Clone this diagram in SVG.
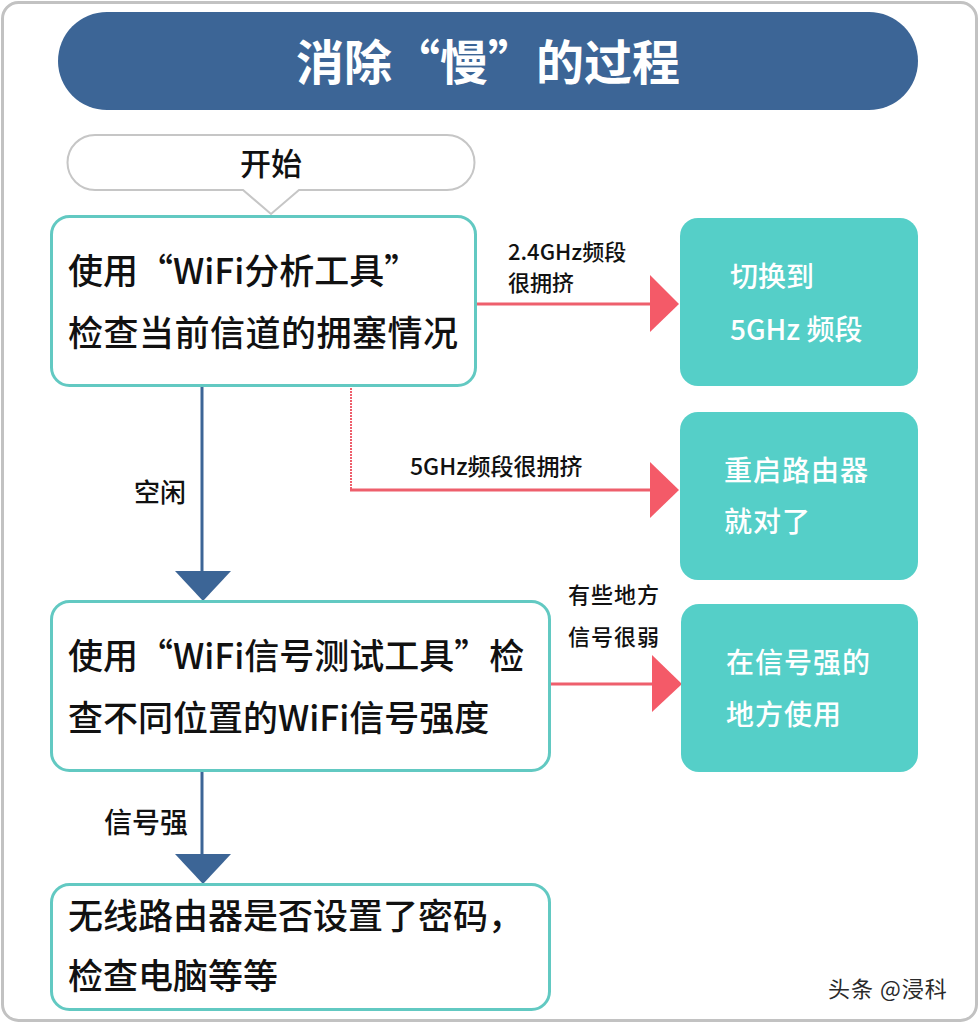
<svg xmlns="http://www.w3.org/2000/svg" width="980" height="1024" viewBox="0 0 980 1024">
<style>
text{font-family:"Noto Sans CJK SC","Noto Sans",sans-serif;}
.box{fill:#ffffff;stroke:#62c9c2;stroke-width:3;}
.tbox{fill:#55cfc8;stroke:none;}
.btxt{font-size:35px;font-weight:500;fill:#111;}
.wtxt{font-size:28px;font-weight:500;fill:#ffffff;}
.lbl{font-weight:500;fill:#111;}
.blue{stroke:#3c6596;stroke-width:3;fill:none;}
.red{stroke:#ee5f6c;stroke-width:3;fill:none;}
.bhead{fill:#3c6596;}
.rhead{fill:#f45a68;}
</style>
<rect x="0" y="0" width="980" height="1024" fill="#ffffff"/>
<rect x="2.5" y="2.5" width="974" height="1018" rx="16" fill="#ffffff" stroke="#c2c2c2" stroke-width="3"/>

<g id="title">
<rect x="58" y="12" width="860" height="98" rx="49" fill="#3c6596"/>
<text x="488" y="80" text-anchor="middle" font-size="48" font-weight="bold" fill="#ffffff">消除“慢”的过程</text>
</g>

<g id="start">
<path d="M95,135 H447 A27.5,27.5 0 0 1 447,190 H299 L271,214 L243,190 H95 A27.5,27.5 0 0 1 95,135 Z" fill="#ffffff" stroke="#c6c6c6" stroke-width="2"/>
<text x="271" y="175" text-anchor="middle" font-size="31" font-weight="500" fill="#111">开始</text>
</g>

<g id="connectors">
<line class="blue" x1="202" y1="386" x2="202" y2="573"/>
<polygon class="bhead" points="175,571 231,571 203,601"/>
<line class="blue" x1="202" y1="771" x2="202" y2="856"/>
<polygon class="bhead" points="175,854 231,854 203,884"/>
<line class="red" x1="476" y1="304" x2="652" y2="304"/>
<polygon class="rhead" points="650,275 650,332 679,304"/>
<line x1="351" y1="388" x2="351" y2="490" stroke="#ee5f6c" stroke-width="2" stroke-dasharray="2,1"/>
<line class="red" x1="350" y1="490" x2="652" y2="490"/>
<polygon class="rhead" points="650,462 650,518 679,490"/>
<line class="red" x1="550" y1="684" x2="654" y2="684"/>
<polygon class="rhead" points="652,655 652,712 682,684"/>
<text class="lbl" x="508" y="260" style="font-size:22px">2.4GHz频段</text>
<text class="lbl" x="508" y="291" style="font-size:22px">很拥挤</text>
<text class="lbl" x="410" y="475" style="font-size:23px">5GHz频段很拥挤</text>
<text class="lbl" x="134" y="502" style="font-size:26px">空闲</text>
<text class="lbl" x="568" y="603" style="font-size:22px" letter-spacing="1">有些地方</text>
<text class="lbl" x="568" y="645" style="font-size:22px" letter-spacing="1">信号很弱</text>
<text class="lbl" x="104" y="833" style="font-size:28px">信号强</text>
</g>

<g id="box1">
<rect class="box" x="51.5" y="216.5" width="424" height="169" rx="18"/>
<text class="btxt" x="68" y="284">使用“WiFi分析工具”</text>
<text class="btxt" x="68" y="346" letter-spacing="0.5">检查当前信道的拥塞情况</text>
</g>

<g id="switch5g">
<rect class="tbox" x="680" y="218" width="238" height="168" rx="18"/>
<text class="wtxt" x="730" y="287">切换到</text>
<text class="wtxt" x="730" y="340">5GHz 频段</text>
</g>

<g id="reboot">
<rect class="tbox" x="680" y="412" width="238" height="168" rx="18"/>
<text class="wtxt" x="724" y="481" letter-spacing="1">重启路由器</text>
<text class="wtxt" x="724" y="532" letter-spacing="1">就对了</text>
</g>

<g id="box2">
<rect class="box" x="51.5" y="601.5" width="498" height="169" rx="18"/>
<text class="btxt" x="68" y="669">使用“WiFi信号测试工具”检</text>
<text class="btxt" x="68" y="731">查不同位置的WiFi信号强度</text>
</g>

<g id="strong">
<rect class="tbox" x="681" y="604" width="237" height="168" rx="18"/>
<text class="wtxt" x="726" y="673" letter-spacing="1">在信号强的</text>
<text class="wtxt" x="726" y="725" letter-spacing="1">地方使用</text>
</g>

<g id="box3">
<rect class="box" x="51.5" y="884.5" width="498" height="125" rx="18"/>
<text class="btxt" x="68" y="929">无线路由器是否设置了密码，</text>
<text class="btxt" x="68" y="989">检查电脑等等</text>
</g>

<g id="watermark">
<text x="828" y="997" font-size="22" letter-spacing="1" fill="#2a2a2a">头条 @浸科</text>
</g>
</svg>
